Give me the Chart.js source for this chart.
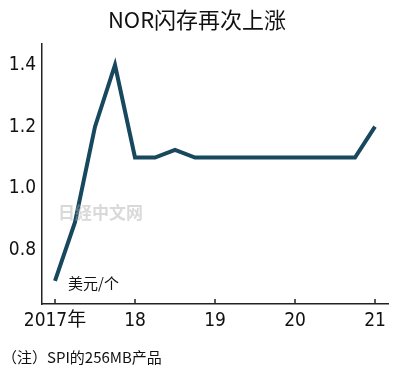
<!DOCTYPE html>
<html>
<head>
<meta charset="utf-8">
<script src="https://cdn.jsdelivr.net/npm/chart.js@4"></script>
<style>
  html, body { margin: 0; padding: 0; background: #fff; }
  #wrap { width: 400px; height: 376px; position: relative; }
</style>
</head>
<body>
<div id="wrap"><canvas id="chart"></canvas></div>
<script>
// 季度数据 2017Q1 - 2021Q1
var quarters = [0, 1, 2, 3, 4, 5, 6, 7, 8, 9, 10, 11, 12, 13, 14, 15, 16];
var prices = [0.70, 0.89, 1.20, 1.40, 1.10, 1.10, 1.125, 1.10, 1.10, 1.10, 1.10, 1.10, 1.10, 1.10, 1.10, 1.10, 1.20];
var yearTicks = [0, 4, 8, 12, 16];
var yearLabels = ['2017年', '18', '19', '20', '21'];
var yTicks = [0.8, 1.0, 1.2, 1.4];

var titleText = 'NOR闪存再次上涨';
var unitText = '美元/个';
var noteText = '（注）SPI的256MB产品';
var markText = '日経中文网';

var cjk = '"Noto Sans CJK SC", "Noto Sans", sans-serif';
var narrow = '"Liberation Sans Narrow", "DejaVu Sans Condensed", "Noto Sans CJK SC", sans-serif';

// 标题、单位、注释、x轴刻度线
var extras = {
    id: 'extras',
    afterDraw: function (chart) {
        var c = chart.ctx;
        var xs = chart.scales.x;
        c.save();
        c.fillStyle = '#111';
        c.textBaseline = 'middle';
        c.font = '22px ' + cjk;
        c.textAlign = 'center';
        c.fillText(titleText, 197, 20);

        c.textAlign = 'left';
        c.font = '15px ' + cjk;
        c.fillText(unitText, 68, 283);
        c.fillText(noteText, 2, 357);

        c.font = 'bold 17px ' + cjk;
        c.fillStyle = 'rgba(170,170,170,0.45)';
        c.fillText(markText, 58, 213);

        // 向上的刻度线
        c.strokeStyle = '#222';
        c.lineWidth = 1.5;
        yearTicks.forEach(function (v) {
            var px = xs.getPixelForValue(v);
            c.beginPath();
            c.moveTo(px, xs.top);
            c.lineTo(px, xs.top - 5);
            c.stroke();
        });
        c.restore();
    }
};

var ctx = document.getElementById('chart').getContext('2d');
var chart = new Chart(ctx, {
    type: 'line',
    data: {
        labels: quarters,
        datasets: [{
            data: quarters.map(function (q, i) { return { x: q, y: prices[i] }; }),
            borderColor: '#17485e',
            borderWidth: 4,
            borderJoinStyle: 'miter',
            pointRadius: 0,
            tension: 0,
            fill: false
        }]
    },
    options: {
        responsive: true,
        maintainAspectRatio: false,
        animation: false,
        layout: { padding: { top: 44, left: 0, right: 12, bottom: 42 } },
        plugins: {
            legend: { display: false },
            tooltip: { enabled: false },
            title: { display: false }
        },
        scales: {
            x: {
                type: 'linear',
                min: -0.65,
                max: 16.65,
                afterBuildTicks: function (axis) {
                    axis.ticks = yearTicks.map(function (v) { return { value: v }; });
                },
                afterFit: function (axis) { axis.height = 30; },
                grid: { display: false, drawTicks: false },
                border: { display: true, color: '#222', width: 1.5 },
                ticks: {
                    padding: 6,
                    color: '#111',
                    font: { family: narrow, size: 19 },
                    maxRotation: 0,
                    autoSkip: false,
                    callback: function (v) {
                        var i = yearTicks.indexOf(v);
                        return i >= 0 ? yearLabels[i] : '';
                    }
                }
            },
            y: {
                min: 0.625,
                max: 1.468,
                afterBuildTicks: function (axis) {
                    axis.ticks = yTicks.map(function (v) { return { value: v }; });
                },
                afterFit: function (axis) { axis.width = 42; },
                grid: { display: false, drawTicks: false },
                border: { display: true, color: '#222', width: 1.5 },
                ticks: {
                    padding: 6,
                    color: '#111',
                    font: { family: narrow, size: 19 },
                    callback: function (v) { return v.toFixed(1); }
                }
            }
        }
    },
    plugins: [extras]
});
</script>
</body>
</html>
